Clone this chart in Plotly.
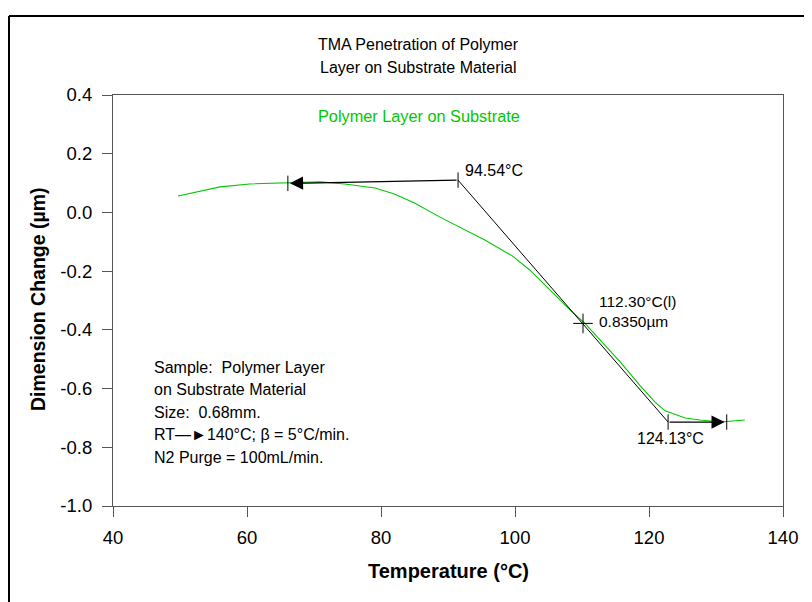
import plotly.graph_objects as go

# ---- data ----
temp = [49.7, 53.0, 56.0, 60.4, 66.1, 70.9, 74.6, 79.1, 82.0, 85.0, 88.8, 93.3, 95.5,
        99.6, 102.2, 104.9, 108.2, 110.4, 112.7, 115.7, 118.7, 120.9, 122.4, 125.4,
        127.6, 130.6, 134.3]
dim = [0.056, 0.073, 0.087, 0.097, 0.100, 0.104, 0.097, 0.083, 0.063, 0.032, -0.016,
       -0.067, -0.094, -0.148, -0.196, -0.257, -0.332, -0.377, -0.434, -0.509, -0.591,
       -0.646, -0.676, -0.700, -0.707, -0.714, -0.707]

# tangent construction points (onset / inflection / endset)
base_left = (66.1, 0.099)
onset_pt = (91.5, 0.110)
infl_pt = (110.15, -0.378)
end_pt = (122.85, -0.714)
base_right = (131.6, -0.714)

onset_label = "94.54°C"
infl_label = "112.30°C(l)<br>0.8350µm"
end_label = "124.13°C"

xticks = [40, 60, 80, 100, 120, 140]
yticks = [0.4, 0.2, 0.0, -0.2, -0.4, -0.6, -0.8, -1.0]
yticktext = ["0.4", "0.2", "0.0", "-0.2", "-0.4", "-0.6", "-0.8", "-1.0"]

title_lines = ["TMA Penetration of Polymer", "Layer on Substrate Material"]
series_name = "Polymer Layer on Substrate"
sample_lines = ["Sample:  Polymer Layer", "on Substrate Material", "Size:  0.68mm.",
                "RT\u2014\u25ba140°C; β = 5°C/min.", "N2 Purge = 100mL/min."]

FONT = "Liberation Sans"
GREEN = "#00c800"
TXT = 16

fig = go.Figure()
fig.add_trace(go.Scatter(x=temp, y=dim, mode="lines", line=dict(color=GREEN, width=1.1),
                         hoverinfo="skip", showlegend=False))
# steep tangent line
fig.add_trace(go.Scatter(x=[onset_pt[0], end_pt[0]], y=[onset_pt[1], end_pt[1]], mode="lines",
                         line=dict(color="black", width=1), showlegend=False, hoverinfo="skip"))
# end tick marks
fig.add_trace(go.Scatter(x=[base_left[0], onset_pt[0], end_pt[0], base_right[0]],
                         y=[base_left[1], onset_pt[1], end_pt[1], base_right[1]],
                         mode="markers",
                         marker=dict(symbol="line-ns", size=11, line=dict(color="black", width=1)),
                         showlegend=False, hoverinfo="skip"))
# inflection cross
fig.add_trace(go.Scatter(x=[infl_pt[0]], y=[infl_pt[1]], mode="markers",
                         marker=dict(symbol="cross-thin", size=14, line=dict(color="black", width=1)),
                         showlegend=False, hoverinfo="skip"))

ann = []
# baseline arrows
ann.append(dict(x=base_left[0] + 0.3, y=base_left[1], ax=onset_pt[0], ay=onset_pt[1],
                xref="x", yref="y", axref="x", ayref="y", showarrow=True, text="",
                arrowhead=2, arrowsize=2.2, arrowwidth=1.2, arrowcolor="black"))
ann.append(dict(x=base_right[0] - 0.3, y=base_right[1], ax=end_pt[0], ay=end_pt[1],
                xref="x", yref="y", axref="x", ayref="y", showarrow=True, text="",
                arrowhead=2, arrowsize=2.2, arrowwidth=1.2, arrowcolor="black"))
# labels
ann.append(dict(x=onset_pt[0], y=onset_pt[1], text=onset_label, showarrow=False,
                xanchor="left", yanchor="middle", xshift=5, yshift=10,
                font=dict(family=FONT, size=TXT, color="black")))
ann.append(dict(x=infl_pt[0], y=infl_pt[1], text=infl_label, showarrow=False,
                xanchor="left", yanchor="middle", xshift=14, yshift=12, align="left",
                font=dict(family=FONT, size=15.5, color="black")))
ann.append(dict(x=end_pt[0], y=end_pt[1], text=end_label, showarrow=False,
                xanchor="left", yanchor="middle", xshift=-33, yshift=-16,
                font=dict(family=FONT, size=TXT, color="black")))
# series label
ann.append(dict(x=(419 - 113) / 670, y=(506 - 116) / 411, xref="paper", yref="paper",
                text=series_name, showarrow=False, xanchor="center", yanchor="middle",
                font=dict(family=FONT, size=16.3, color=GREEN)))
# sample info
for i, line in enumerate(sample_lines):
    ann.append(dict(x=(152 - 113) / 670, y=(506 - (367 + 22.5 * i)) / 411,
                    xref="paper", yref="paper", text=line, showarrow=False,
                    xanchor="left", yanchor="middle",
                    font=dict(family=FONT, size=TXT, color="black")))
# title
for i, line in enumerate(title_lines):
    ann.append(dict(x=(418 - 113) / 670, y=(506 - (45 + 22 * i)) / 411,
                    xref="paper", yref="paper", text=line, showarrow=False,
                    xanchor="center", yanchor="middle",
                    font=dict(family=FONT, size=16, color="black")))
# axis titles
ann.append(dict(x=(448 - 113) / 670, y=(506 - 571) / 411, xref="paper", yref="paper",
                text="<b>Temperature (°C)</b>", showarrow=False, xanchor="center", yanchor="middle",
                font=dict(family=FONT, size=20, color="black")))
ann.append(dict(x=(38 - 113) / 670, y=(506 - 299) / 411, xref="paper", yref="paper",
                text="<b>Dimension Change (µm)</b>", showarrow=False, textangle=-90,
                xanchor="center", yanchor="middle",
                font=dict(family=FONT, size=19.5, color="black")))

shapes = [
    dict(type="line", xref="paper", yref="paper", x0=(9 - 113) / 670, x1=(830 - 113) / 670,
         y0=(506 - 16) / 411, y1=(506 - 16) / 411, line=dict(color="black", width=2)),
    dict(type="line", xref="paper", yref="paper", x0=(9 - 113) / 670, x1=(9 - 113) / 670,
         y0=(506 - 16) / 411, y1=(506 - 620) / 411, line=dict(color="black", width=2)),
]

axis_common = dict(showgrid=False, zeroline=False, showline=True, linecolor="#555555",
                   linewidth=1.2, mirror=True, ticks="outside", ticklen=10, tickwidth=1,
                   tickcolor="#555555", tickfont=dict(family=FONT, size=18.5, color="black"))

# page has an 8px body margin: figure is 804x594 so screen = figure + 8px
fig.update_layout(
    width=804, height=594,
    margin=dict(l=105, r=29, t=87, b=96),
    paper_bgcolor="white", plot_bgcolor="white",
    xaxis=dict(range=[40, 140], tickvals=xticks, ticklabelstandoff=5, **axis_common),
    yaxis=dict(range=[-1.0, 0.4], tickvals=yticks, ticktext=yticktext, ticklabelstandoff=6,
               **axis_common),
    annotations=ann, shapes=shapes, showlegend=False,
)
fig.write_html("out.html")
